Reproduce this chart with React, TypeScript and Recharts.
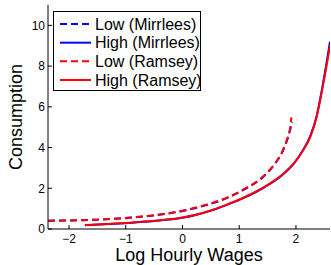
import React from 'react';
import { LineChart, Line, XAxis, YAxis, Legend, Label } from 'recharts';

// Log hourly wage grids (x values)
const lowWageMirrlees = [-2.37, -2.0, -1.5, -0.93, -0.5, 0, 0.39, 0.75, 1.1, 1.39, 1.63, 1.75, 1.81, 1.86, 1.9, 1.935];
const lowWageRamsey = [-2.37, -2.0, -1.5, -0.93, -0.5, 0, 0.39, 0.75, 1.1, 1.39, 1.63, 1.75, 1.81, 1.86, 1.9, 1.92];
const highWage = [-1.72, -1.3, -0.93, -0.5, 0, 0.25, 0.5, 0.75, 1.1, 1.45, 1.75, 1.98, 2.13, 2.25, 2.36, 2.48, 2.6];

// Consumption values
const lowMirrlees = [0.41, 0.42, 0.46, 0.55, 0.67, 0.88, 1.15, 1.48, 1.96, 2.48, 3.2, 3.72, 4.1, 4.5, 4.9, 5.25];
const lowRamsey = [0.4, 0.42, 0.46, 0.56, 0.68, 0.9, 1.17, 1.5, 1.98, 2.5, 3.22, 3.75, 4.15, 4.55, 5.0, 5.48];
const highMirrlees = [0.18, 0.24, 0.3, 0.39, 0.55, 0.7, 0.9, 1.15, 1.55, 2.06, 2.63, 3.27, 3.9, 4.55, 5.5, 7.2, 9.2];
const highRamsey = [0.19, 0.25, 0.31, 0.4, 0.56, 0.71, 0.91, 1.16, 1.57, 2.08, 2.65, 3.28, 3.88, 4.5, 5.45, 7.1, 9.0];

const seriesNames = ['Low (Mirrlees)', 'High (Mirrlees)', 'Low (Ramsey)', 'High (Ramsey)'];

const xTicks = [-2, -1, 0, 1, 2];
const yTicks = [0, 2, 4, 6, 8, 10];

const FONT = '"Liberation Sans", Arial, Helvetica, sans-serif';

const toPoints = (xs: number[], ys: number[]) => xs.map((x, i) => ({ x, y: ys[i] }));

const series = [
  { name: seriesNames[0], color: '#0000ff', dash: '7 4', data: toPoints(lowWageMirrlees, lowMirrlees) },
  { name: seriesNames[1], color: '#0000ff', dash: undefined, data: toPoints(highWage, highMirrlees) },
  { name: seriesNames[2], color: '#ff0000', dash: '7 4', data: toPoints(lowWageRamsey, lowRamsey) },
  { name: seriesNames[3], color: '#ff0000', dash: undefined, data: toPoints(highWage, highRamsey) },
];

const fmt = (v: number) => (v < 0 ? '\u2212' + Math.abs(v) : String(v));

const tickStyle = { fontSize: 12, fontFamily: FONT, fill: '#000' };

function LegendBox() {
  return (
    <svg width={148} height={80} style={{ display: 'block' }}>
      <rect x={0.5} y={0.5} width={147} height={79} fill="#fff" stroke="#000" strokeWidth={1} />
      {series.map((s, i) => {
        const cy = 13 + i * 18.67;
        return (
          <g key={s.name}>
            <line x1={7} x2={38} y1={cy} y2={cy} stroke={s.color} strokeWidth={2} strokeDasharray={s.dash} />
            <text x={42} y={cy} dominantBaseline="central" fontSize={16} fontFamily={FONT} fill="#000">
              {s.name}
            </text>
          </g>
        );
      })}
    </svg>
  );
}

export default function App() {
  return (
    <div style={{ position: 'absolute', left: 0, top: 0, background: '#fff' }}>
      <LineChart width={331} height={265} margin={{ top: 5, right: 1, bottom: 0, left: 0 }}>
        <XAxis
          xAxisId={0}
          dataKey="x"
          type="number"
          domain={[-2.37, 2.6]}
          allowDataOverflow
          ticks={xTicks}
          tickFormatter={fmt}
          height={36}
          tickSize={-4}
          tickMargin={9}
          stroke="#000"
          tick={tickStyle}
          interval={0}
        >
          <Label
            content={() => (
              <text x={189} y={261} textAnchor="middle" fontSize={18} fontFamily={FONT} fill="#000">
                Log Hourly Wages
              </text>
            )}
          />
        </XAxis>
        <XAxis
          xAxisId="top"
          orientation="top"
          dataKey="x"
          type="number"
          domain={[-2.37, 2.6]}
          allowDataOverflow
          ticks={xTicks}
          height={0}
          tickSize={-4}
          tick={false}
          stroke="#000"
          interval={0}
        />
        <YAxis
          yAxisId={0}
          type="number"
          domain={[0, 11]}
          allowDataOverflow
          ticks={yTicks}
          width={48}
          tickSize={-4}
          tickMargin={7}
          stroke="#000"
          tick={tickStyle}
          interval={0}
        >
          <Label
            content={() => (
              <text
                x={16}
                y={117}
                transform="rotate(-90 16 117)"
                textAnchor="middle"
                dominantBaseline="central"
                fontSize={18}
                fontFamily={FONT}
                fill="#000"
              >
                Consumption
              </text>
            )}
          />
        </YAxis>
        <YAxis
          yAxisId="right"
          orientation="right"
          type="number"
          domain={[0, 11]}
          allowDataOverflow
          ticks={yTicks}
          width={0}
          tickSize={-4}
          tick={false}
          stroke="#000"
          interval={0}
        />
        <Legend
          layout="vertical"
          align="center"
          verticalAlign="middle"
          width={148}
          height={80}
          wrapperStyle={{ left: 53, top: 11, width: 148, height: 80 }}
          content={() => <LegendBox />}
        />
        {series.map((s) => (
          <Line
            key={s.name}
            name={s.name}
            data={s.data}
            dataKey="y"
            type="monotone"
            stroke={s.color}
            strokeWidth={2}
            strokeDasharray={s.dash}
            dot={false}
            activeDot={false}
            isAnimationActive={false}
          />
        ))}
      </LineChart>
    </div>
  );
}
